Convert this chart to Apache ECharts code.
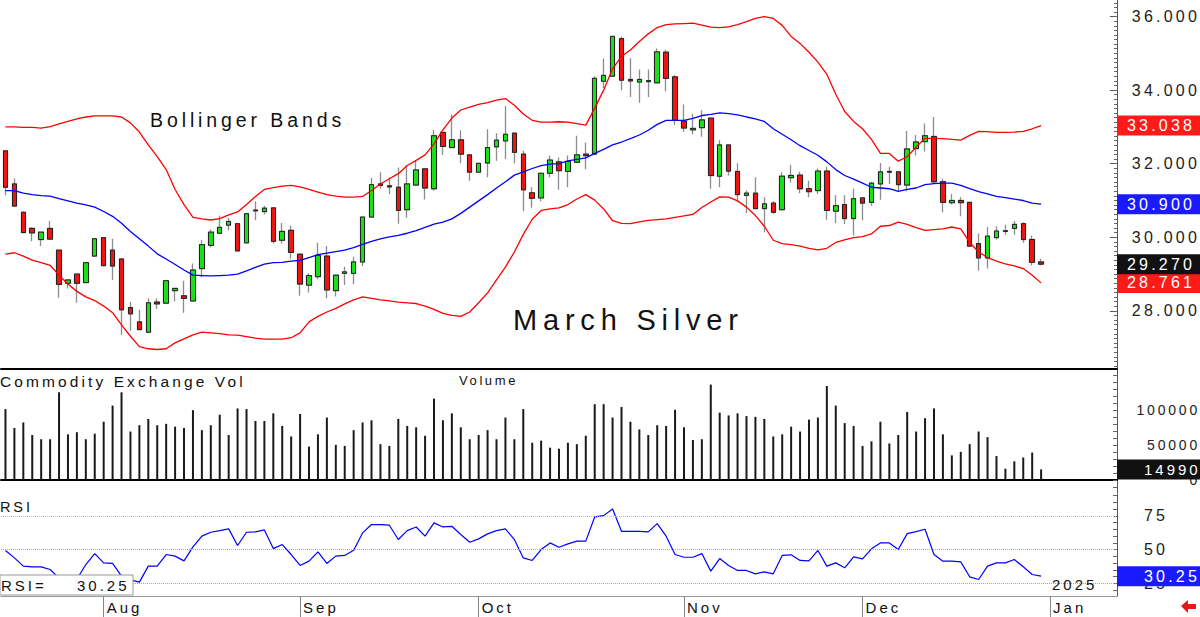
<!DOCTYPE html>
<html>
<head>
<meta charset="utf-8">
<title>March Silver</title>
<script src="https://cdn.jsdelivr.net/npm/echarts@6/dist/echarts.min.js"></script>
<style>
html, body { margin: 0; padding: 0; background: #fff; }
#main { width: 1200px; height: 617px; }
#main text { letter-spacing: 0.2em; }
</style>
</head>
<body>
<div id="main"></div>
<script>
var FONT = "'Liberation Sans', Arial, sans-serif";
var monthNames = ['Jan', 'Feb', 'Mar', 'Apr', 'May', 'Jun', 'Jul', 'Aug', 'Sep', 'Oct', 'Nov', 'Dec'];

// trading days (last 8 are empty slots in early January)
var tradingDays = [
	['2024-07', [17, 18, 19, 22, 23, 24, 25, 26, 29, 30, 31]],
	['2024-08', [1, 2, 5, 6, 7, 8, 9, 12, 13, 14, 15, 16, 19, 20, 21, 22, 23, 26, 27, 28, 29, 30]],
	['2024-09', [3, 4, 5, 6, 9, 10, 11, 12, 13, 16, 17, 18, 19, 20, 23, 24, 25, 26, 27, 30]],
	['2024-10', [1, 2, 3, 4, 7, 8, 9, 10, 11, 14, 15, 16, 17, 18, 21, 22, 23, 24, 25, 28, 29, 30, 31]],
	['2024-11', [1, 4, 5, 6, 7, 8, 11, 12, 13, 14, 15, 18, 19, 20, 21, 22, 25, 26, 27, 29]],
	['2024-12', [2, 3, 4, 5, 6, 9, 10, 11, 12, 13, 16, 17, 18, 19, 20, 23, 24, 26, 27, 30, 31]],
	['2025-01', [2, 3, 6, 7, 8, 10, 13, 14]]
];

// [open, close, low, high]
var candles = [
	[32.35, 31.36, 31.14, 32.35], [31.45, 30.85, 30.85, 31.60], [30.68, 30.13, 30.10, 30.70], [30.24, 30.12, 29.89, 30.28],
	[29.94, 30.14, 29.76, 30.15], [30.24, 29.95, 29.94, 30.44], [29.65, 28.72, 28.36, 29.66], [28.75, 28.84, 28.61, 28.86],
	[29.00, 28.75, 28.22, 29.00], [28.77, 29.31, 28.75, 29.33], [29.49, 29.96, 29.47, 29.98], [29.99, 29.23, 29.22, 30.00],
	[29.65, 29.22, 28.84, 29.96], [29.41, 28.03, 27.35, 29.42], [28.09, 27.92, 27.46, 28.24], [27.70, 27.49, 27.48, 28.03],
	[27.42, 28.22, 27.40, 28.34], [28.24, 28.19, 28.05, 28.34], [28.21, 28.82, 28.19, 28.84], [28.55, 28.61, 28.26, 28.62],
	[28.41, 28.34, 27.95, 28.82], [28.27, 29.11, 28.25, 29.29], [29.15, 29.80, 28.91, 29.92], [29.78, 30.14, 29.72, 30.21],
	[30.11, 30.27, 30.10, 30.59], [30.33, 30.43, 30.19, 30.53], [30.37, 29.63, 29.62, 30.38], [29.85, 30.64, 29.84, 30.65],
	[30.74, 30.72, 30.46, 30.97], [30.70, 30.79, 30.62, 30.86], [30.80, 29.89, 29.83, 30.81], [29.92, 30.16, 29.83, 30.39],
	[30.19, 29.59, 29.42, 30.32], [29.54, 28.73, 28.41, 29.55], [28.70, 28.96, 28.50, 29.02], [28.93, 29.51, 28.86, 29.85],
	[29.49, 28.57, 28.34, 29.76], [28.55, 28.97, 28.39, 28.98], [29.02, 29.06, 28.70, 29.20], [29.02, 29.33, 28.73, 29.47],
	[29.33, 30.55, 29.22, 30.56], [30.55, 31.43, 30.54, 31.61], [31.45, 31.41, 31.32, 31.77], [31.40, 31.37, 31.18, 31.63],
	[31.36, 30.73, 30.37, 31.90], [30.75, 31.45, 30.53, 31.95], [31.42, 31.83, 31.40, 32.08], [31.86, 31.34, 31.03, 31.87],
	[31.32, 32.76, 31.27, 32.91], [32.85, 32.47, 32.24, 32.86], [32.44, 32.65, 32.42, 33.34], [32.65, 32.26, 32.01, 32.91],
	[32.24, 31.77, 31.54, 32.25], [31.77, 32.01, 31.76, 32.02], [32.02, 32.44, 31.63, 32.94], [32.46, 32.64, 32.08, 32.83],
	[32.62, 32.80, 32.13, 33.57], [32.83, 32.31, 32.01, 32.85], [32.26, 31.29, 30.71, 32.35], [31.21, 31.06, 30.80, 31.36],
	[31.07, 31.74, 30.98, 31.75], [31.74, 32.10, 31.63, 32.22], [32.05, 31.81, 31.29, 32.17], [31.79, 32.06, 31.36, 32.22],
	[32.04, 32.24, 32.02, 32.76], [32.26, 32.22, 31.85, 32.58], [32.26, 34.32, 32.24, 34.38], [34.24, 34.40, 34.06, 34.86],
	[34.38, 35.46, 34.36, 35.48], [35.40, 34.27, 34.00, 35.46], [34.29, 34.25, 33.81, 34.87], [34.22, 34.29, 33.66, 34.56],
	[34.23, 34.26, 33.81, 34.56], [34.20, 35.04, 34.19, 35.13], [35.03, 34.32, 33.97, 35.10], [34.36, 33.18, 33.05, 34.41],
	[33.16, 32.97, 32.87, 33.61], [32.92, 32.96, 32.80, 33.36], [32.98, 33.19, 32.73, 33.45], [33.24, 31.68, 31.32, 33.25],
	[31.66, 32.51, 31.36, 32.64], [32.51, 31.80, 31.68, 32.52], [31.79, 31.16, 30.95, 32.01], [31.14, 31.20, 30.66, 31.27],
	[31.20, 30.78, 30.76, 31.63], [30.78, 30.91, 30.14, 31.09], [30.93, 30.68, 30.64, 30.98], [30.75, 31.66, 30.73, 31.77],
	[31.62, 31.68, 31.49, 31.97], [31.69, 31.32, 31.20, 31.78], [31.32, 31.24, 31.09, 31.54], [31.27, 31.80, 31.18, 31.87],
	[31.80, 30.73, 30.48, 31.92], [30.71, 30.86, 30.39, 31.14], [30.89, 30.51, 30.36, 31.14], [30.51, 31.05, 30.05, 31.32],
	[31.07, 30.93, 30.46, 31.08], [30.95, 31.47, 30.86, 31.51], [31.45, 31.78, 31.02, 32.02], [31.79, 31.77, 31.45, 31.92],
	[31.78, 31.43, 31.25, 31.79], [31.42, 32.40, 31.25, 32.89], [32.41, 32.59, 32.22, 32.78], [32.60, 32.76, 32.33, 33.09],
	[32.74, 31.51, 31.45, 33.27], [31.51, 30.95, 30.68, 31.59], [30.94, 31.00, 30.89, 31.18], [31.00, 30.94, 30.57, 31.09],
	[30.95, 29.76, 29.74, 30.96], [29.83, 29.44, 29.09, 30.10], [29.44, 30.03, 29.15, 30.28], [29.99, 30.17, 29.94, 30.30],
	[30.16, 30.18, 30.07, 30.34], [30.24, 30.35, 30.07, 30.44], [30.37, 29.94, 29.85, 30.41], [29.94, 29.32, 29.23, 30.05],
	[29.33, 29.27, 29.23, 29.42]
];

var upper = [
	33.00, 33.00, 32.99, 32.99, 32.97, 33.01, 33.08, 33.15, 33.22, 33.27,
	33.30, 33.30, 33.30, 33.27, 33.11, 32.86, 32.51, 32.19, 31.84, 31.30,
	30.89, 30.54, 30.50, 30.47, 30.51, 30.61, 30.69, 30.89, 31.11, 31.30,
	31.35, 31.39, 31.41, 31.37, 31.30, 31.23, 31.16, 31.12, 31.09, 31.09,
	31.11, 31.27, 31.45, 31.59, 31.73, 31.95, 32.09, 32.24, 32.54, 32.92,
	33.24, 33.46, 33.54, 33.61, 33.66, 33.73, 33.77, 33.59, 33.35, 33.18,
	33.13, 33.13, 33.14, 33.13, 33.09, 33.05, 33.51, 34.00, 34.58, 34.92,
	35.09, 35.32, 35.53, 35.70, 35.78, 35.80, 35.81, 35.82, 35.77, 35.71,
	35.70, 35.72, 35.78, 35.86, 35.95, 36.00, 35.95, 35.76, 35.46, 35.27,
	35.03, 34.76, 34.43, 33.89, 33.42, 33.15, 32.95, 32.66, 32.28, 32.28,
	32.07, 32.19, 32.45, 32.69, 32.69, 32.68, 32.66, 32.64, 32.77, 32.88,
	32.87, 32.85, 32.85, 32.86, 32.88, 32.95, 33.038
];

var middle = [
	31.27, 31.27, 31.20, 31.16, 31.13, 31.12, 31.05, 30.99, 30.93, 30.88,
	30.82, 30.70, 30.57, 30.38, 30.16, 29.96, 29.76, 29.55, 29.41, 29.26,
	29.11, 28.97, 28.96, 28.95, 28.96, 28.97, 29.00, 29.09, 29.18, 29.27,
	29.31, 29.32, 29.35, 29.37, 29.45, 29.53, 29.57, 29.61, 29.65, 29.72,
	29.81, 29.89, 29.96, 30.01, 30.05, 30.11, 30.18, 30.27, 30.36, 30.41,
	30.50, 30.65, 30.82, 30.99, 31.16, 31.34, 31.51, 31.69, 31.78, 31.87,
	31.95, 31.99, 32.00, 32.08, 32.12, 32.16, 32.28, 32.39, 32.51, 32.59,
	32.68, 32.78, 32.91, 33.07, 33.18, 33.18, 33.18, 33.23, 33.31, 33.34,
	33.38, 33.36, 33.33, 33.27, 33.22, 33.15, 32.95, 32.80, 32.65, 32.49,
	32.36, 32.23, 32.05, 31.84, 31.68, 31.58, 31.47, 31.36, 31.34, 31.32,
	31.25, 31.30, 31.34, 31.43, 31.46, 31.47, 31.47, 31.41, 31.32, 31.24,
	31.18, 31.11, 31.08, 31.04, 31.00, 30.93, 30.900
];

var lower = [
	29.54, 29.58, 29.49, 29.38, 29.31, 29.24, 28.97, 28.73, 28.53, 28.38,
	28.28, 28.13, 27.95, 27.62, 27.31, 27.03, 26.97, 26.95, 26.97, 27.13,
	27.24, 27.35, 27.42, 27.40, 27.38, 27.35, 27.34, 27.30, 27.26, 27.23,
	27.23, 27.23, 27.27, 27.40, 27.70, 27.85, 27.97, 28.07, 28.19, 28.30,
	28.38, 28.34, 28.30, 28.27, 28.24, 28.22, 28.20, 28.13, 28.04, 27.93,
	27.88, 27.85, 27.97, 28.22, 28.49, 28.84, 29.19, 29.60, 30.08, 30.49,
	30.73, 30.77, 30.80, 30.89, 31.04, 31.16, 31.01, 30.77, 30.45, 30.38,
	30.37, 30.42, 30.46, 30.48, 30.50, 30.54, 30.58, 30.62, 30.81, 30.96,
	31.10, 31.09, 30.99, 30.82, 30.59, 30.30, 29.92, 29.83, 29.80, 29.76,
	29.70, 29.66, 29.70, 29.86, 29.93, 29.99, 30.02, 30.09, 30.30, 30.32,
	30.41, 30.35, 30.26, 30.19, 30.21, 30.23, 30.28, 30.23, 29.86, 29.60,
	29.45, 29.35, 29.28, 29.22, 29.15, 28.97, 28.761
];

var volume = [
	101000, 74000, 82000, 64000, 58000, 58000, 125000, 65000, 68000, 58000,
	66000, 83000, 106000, 125000, 69000, 78000, 87000, 78000, 80000, 76000,
	74000, 99500, 71000, 78000, 93000, 64000, 102000, 101000, 84000, 84000,
	95000, 77000, 62000, 94000, 47500, 65000, 89000, 50000, 48500, 71000,
	82000, 85000, 51000, 48500, 87000, 77000, 75000, 63000, 116000, 85000,
	95000, 75000, 58000, 64000, 71000, 58000, 89000, 58000, 101000, 53000,
	56000, 46000, 44500, 53000, 51000, 63000, 108000, 108000, 89000, 104000,
	83000, 72000, 64000, 78000, 77000, 100000, 75000, 57000, 58000, 136000,
	96000, 92000, 95000, 91000, 90000, 87000, 62000, 65000, 76000, 69000,
	86000, 89000, 134000, 106000, 81000, 77000, 48500, 55000, 83000, 52000,
	64000, 97000, 69000, 88000, 102000, 65000, 35000, 40000, 51000, 69000,
	61000, 34000, 16000, 26500, 32000, 39000, 14990
];

var rsi = [
	49.3, 43.8, 37.7, 37.2, 37.2, 35.2, 29.0, 25.0, 28.0, 38.9,
	47.0, 40.1, 39.7, 30.3, 27.5, 25.9, 37.7, 37.7, 46.3, 45.1,
	41.6, 52.0, 59.9, 62.8, 64.0, 65.3, 53.0, 62.8, 63.1, 64.5,
	50.7, 53.7, 46.3, 38.2, 41.4, 48.3, 39.7, 45.1, 45.6, 49.5,
	62.3, 68.5, 68.5, 68.0, 57.4, 64.0, 66.7, 59.9, 69.7, 66.7,
	67.2, 61.1, 55.4, 57.9, 61.6, 64.0, 65.3, 57.4, 43.8, 41.9,
	50.0, 54.9, 51.7, 54.2, 56.2, 56.2, 74.1, 75.1, 80.0, 63.5,
	63.5, 63.5, 63.1, 69.2, 59.9, 46.3, 44.3, 44.3, 47.0, 34.0,
	43.3, 38.2, 34.5, 34.5, 32.0, 33.5, 32.0, 45.6, 46.1, 41.9,
	41.6, 49.3, 37.7, 40.1, 36.5, 44.6, 43.1, 50.5, 54.9, 54.9,
	50.0, 61.8, 63.3, 65.0, 46.3, 41.4, 41.4, 40.9, 29.8, 27.8,
	37.7, 40.1, 40.1, 42.6, 37.2, 31.5, 30.25
];

var priceLabels = [28, 30, 32, 34, 36];
var volumeLabels = [0, 50000, 100000];
var rsiLabels = [25, 50, 75];
var rsiLevels = [75, 50, 25];

// categories
var dates = [];
tradingDays.forEach(function(m) {
	m[1].forEach(function(d) {
		dates.push(m[0] + '-' + (d < 10 ? '0' + d : d));
	});
});

function isMonthStart(index) {
	return index > 0 && dates[index].slice(0, 7) !== dates[index - 1].slice(0, 7);
}

// bodies drawn on top of the grey wicks
var bodies = candles.map(function(c) {
	return [c[0], c[1], Math.min(c[0], c[1]), Math.max(c[0], c[1])];
});

function steps(from, to, step) {
	var out = [];
	for (var v = from; v <= to + 1e-9; v += step) out.push(+v.toFixed(4));
	return out;
}

function last(arr) { return arr[arr.length - 1]; }

// value tag drawn at the right end of the plot
function tag(value, text, bg, padL, padR, fs) {
	return {
		yAxis: value,
		lineStyle: { color: 'rgba(255,255,255,0)', width: 0 },
		label: {
			show: true, position: 'end', distance: 0, formatter: text,
			color: '#fff', backgroundColor: bg, fontFamily: FONT, fontSize: fs,
			lineHeight: 17, padding: [2, padR, 1, padL], opacity: 1
		}
	};
}

function tagLine(data) {
	return { silent: true, symbol: ['none', 'none'], animation: false, z: 10, data: data };
}

var chart = echarts.init(document.getElementById('main'), null, { renderer: 'svg' });

var hiddenX = function(gi) {
	return {
		type: 'category', gridIndex: gi, data: dates, boundaryGap: true,
		axisLine: { show: true, lineStyle: { color: '#000', width: 2 } },
		axisTick: { show: false }, axisLabel: { show: false }, splitLine: { show: false }
	};
};

var rightAxisLine = { show: true, lineStyle: { color: '#555', width: 1 } };

var option = {
	backgroundColor: '#fff',
	animation: false,
	textStyle: { fontFamily: FONT },
	grid: [
		{ left: 1, right: 83, top: 0, height: 369, outerBoundsMode: 'none' },
		{ left: 1, right: 83, top: 370, height: 123, outerBoundsMode: 'none' },
		{ left: 1, right: 83, top: 494, height: 102, outerBoundsMode: 'none' }
	],
	xAxis: [
		hiddenX(0),
		hiddenX(1),
		{
			type: 'category', gridIndex: 2, data: dates, boundaryGap: true,
			axisLine: { show: true, lineStyle: { color: '#999', width: 1 } },
			axisTick: {
				show: true, alignWithLabel: true, length: 21,
				interval: function(i) { return isMonthStart(i); },
				lineStyle: { color: '#888' }
			},
			axisLabel: {
				interval: function(i) { return isMonthStart(i); },
				formatter: function(v) { return monthNames[+v.slice(5, 7) - 1]; },
				align: 'left', padding: [0, 0, 0, 3], margin: 4,
				fontSize: 15, color: '#111', fontFamily: FONT
			},
			splitLine: { show: false }
		}
	],
	yAxis: [
		{
			type: 'value', gridIndex: 0, position: 'right', min: 26.42, max: 36.45,
			axisLine: rightAxisLine,
			axisTick: { show: true, inside: true, length: 7, customValues: priceLabels, lineStyle: { color: '#555' } },
			axisLabel: {
				customValues: priceLabels, formatter: function(v) { return v.toFixed(3); },
				align: 'right', margin: 83, fontSize: 16, color: '#222', fontFamily: FONT
			},
			splitLine: { show: false }
		},
		{
			type: 'value', gridIndex: 1, position: 'right', min: -18700, max: 156800,
			axisLine: rightAxisLine,
			axisTick: { show: true, inside: true, length: 4, customValues: steps(-10000, 150000, 10000), lineStyle: { color: '#666' } },
			axisLabel: {
				customValues: volumeLabels, formatter: function(v) { return String(v); },
				align: 'right', margin: 83, fontSize: 14, color: '#222', fontFamily: FONT
			},
			splitLine: { show: false }
		},
		{
			type: 'value', gridIndex: 2, position: 'right', min: 15.6, max: 91.1,
			axisLine: rightAxisLine,
			axisTick: { show: true, inside: true, length: 4, customValues: steps(20, 90, 5), lineStyle: { color: '#666' } },
			axisLabel: {
				customValues: rsiLabels, formatter: function(v) { return String(v); },
				align: 'left', margin: 27, fontSize: 16, color: '#222', fontFamily: FONT
			},
			splitLine: { show: false }
		},
		{
			// fine tick ruler on the price scale
			type: 'value', gridIndex: 0, position: 'right', min: 26.42, max: 36.45,
			axisLine: { show: false },
			axisTick: { show: true, inside: true, length: 3, customValues: steps(26.5, 36.375, 0.125), lineStyle: { color: '#666' } },
			axisLabel: { show: false },
			splitLine: { show: false }
		}
	],
	series: [
		{
			name: 'wick', type: 'candlestick', xAxisIndex: 0, yAxisIndex: 0,
			data: candles, barWidth: 5, silent: true,
			itemStyle: {
				color: 'rgba(0,0,0,0)', color0: 'rgba(0,0,0,0)',
				borderColor: '#8c8c8c', borderColor0: '#8c8c8c', borderColorDoji: '#8c8c8c', borderWidth: 1.3
			}
		},
		{
			name: 'Bollinger upper', type: 'line', xAxisIndex: 0, yAxisIndex: 0,
			data: upper, symbol: 'none', lineStyle: { color: '#ff0000', width: 1.3 },
			markLine: tagLine([tag(last(upper), last(upper).toFixed(3), '#ff1a1a', 10, 25, 16)])
		},
		{
			name: 'Bollinger middle', type: 'line', xAxisIndex: 0, yAxisIndex: 0,
			data: middle, symbol: 'none', lineStyle: { color: '#0000ff', width: 1.3 },
			markLine: tagLine([tag(last(middle), last(middle).toFixed(3), '#1a1aff', 10, 25, 16)])
		},
		{
			name: 'Bollinger lower', type: 'line', xAxisIndex: 0, yAxisIndex: 0,
			data: lower, symbol: 'none', lineStyle: { color: '#ff0000', width: 1.3 },
			markLine: tagLine([tag(last(lower), last(lower).toFixed(3), '#ff1a1a', 10, 25, 16)])
		},
		{
			name: 'March Silver', type: 'candlestick', xAxisIndex: 0, yAxisIndex: 0,
			data: bodies, barWidth: 5,
			itemStyle: {
				color: '#19e019', color0: '#ee1414',
				borderColor: '#222', borderColor0: '#222', borderColorDoji: '#888', borderWidth: 1
			},
			markLine: tagLine([tag(last(candles)[1], last(candles)[1].toFixed(3), '#111', 10, 25, 16)])
		},
		{
			name: 'Volume', type: 'bar', xAxisIndex: 1, yAxisIndex: 1,
			data: volume, barWidth: 2, itemStyle: { color: '#1a1a1a' },
			markLine: tagLine([tag(last(volume), String(last(volume)), '#111', 27, 15, 15)])
		},
		{
			name: 'RSI', type: 'line', xAxisIndex: 2, yAxisIndex: 2,
			data: rsi, symbol: 'none', lineStyle: { color: '#0000ff', width: 1.2 },
			markLine: tagLine([
				{ yAxis: rsiLevels[0], lineStyle: { color: '#ff9a9a', type: 'dotted', width: 1 }, label: { show: false } },
				{ yAxis: rsiLevels[1], lineStyle: { color: '#a8a8a8', type: 'dotted', width: 1 }, label: { show: false } },
				{ yAxis: rsiLevels[2], lineStyle: { color: '#9a9aff', type: 'dotted', width: 1 }, label: { show: false } },
				tag(last(rsi), last(rsi).toFixed(2), '#1a1aff', 27, 17, 16)
			])
		}
	],
	graphic: [
		{ type: 'text', x: 150, y: 120, z: 50, style: { text: 'Bollinger Bands', font: '19.5px ' + FONT, fill: '#111', align: 'left', verticalAlign: 'middle' } },
		{ type: 'text', x: 513, y: 320, z: 50, style: { text: 'March Silver', font: '29px ' + FONT, fill: '#111', align: 'left', verticalAlign: 'middle' } },
		{ type: 'text', x: 0, y: 381, z: 50, style: { text: 'Commodity Exchange Vol', font: '15.5px ' + FONT, fill: '#111', align: 'left', verticalAlign: 'middle' } },
		{ type: 'text', x: 459, y: 380, z: 50, style: { text: 'Volume', font: '13px ' + FONT, fill: '#111', align: 'left', verticalAlign: 'middle' } },
		{ type: 'text', x: 0, y: 507, z: 50, style: { text: 'RSI', font: '14.5px ' + FONT, fill: '#111', align: 'left', verticalAlign: 'middle' } },
		{ type: 'rect', z: 100, shape: { x: 0, y: 575, width: 133, height: 20 }, style: { fill: '#fff', stroke: '#999', lineWidth: 1 } },
		{ type: 'text', x: 1, y: 585, z: 101, style: { text: 'RSI=', font: '15px ' + FONT, fill: '#111', align: 'left', verticalAlign: 'middle' } },
		{ type: 'text', x: 77, y: 585, z: 101, style: { text: last(rsi).toFixed(2), font: '15px ' + FONT, fill: '#111', align: 'left', verticalAlign: 'middle' } },
		{ type: 'text', x: 1052, y: 584, z: 50, style: { text: '2025', font: '15px ' + FONT, fill: '#111', align: 'left', verticalAlign: 'middle' } },
		{ type: 'polygon', z: 50, shape: { points: [[1181, 606], [1188, 600], [1188, 604], [1196, 604], [1196, 609], [1188, 609], [1188, 613]] }, style: { fill: '#e81818' } }
	]
};

chart.setOption(option);
</script>
</body>
</html>
